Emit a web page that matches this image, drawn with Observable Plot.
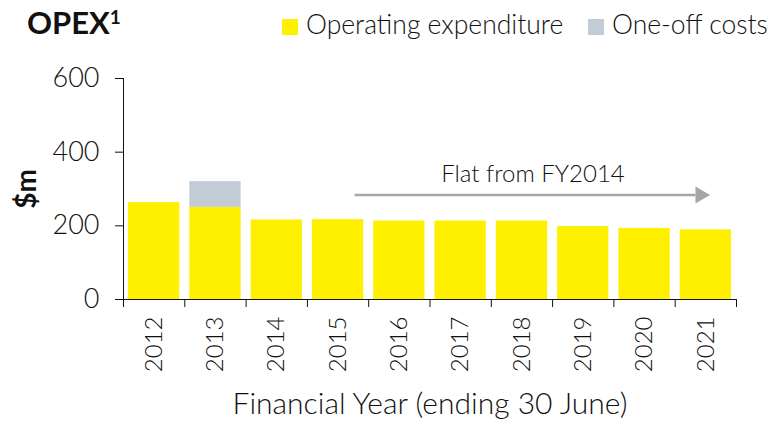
<!DOCTYPE html>
<html>
<head>
<meta charset="utf-8">
<script src="https://cdn.jsdelivr.net/npm/d3@7"></script>
<script src="https://cdn.jsdelivr.net/npm/@observablehq/plot@0.6"></script>
<style>
  html, body { margin: 0; padding: 0; background: #fff; }
  #wrap { position: relative; width: 777px; height: 422px; font-family: Lato, "Noto Sans", sans-serif; color: #111; }
  #wrap svg { position: absolute; left: 0; top: 0; }
  .title { position: absolute; left: 27px; top: 7px; font-size: 31px; font-weight: 700; line-height: 30px; letter-spacing: 0px; }
  .title sup { font-size: 19px; vertical-align: 0; position: relative; top: -10px; margin-left: 0px; }
  .leg { position: absolute; top: 9px; font-size: 26.5px; font-weight: 300; line-height: 30px; white-space: nowrap; }
  .sw { position: absolute; width: 16px; height: 16px; top: 19px; }
</style>
</head>
<body>
<div id="wrap"></div>
<script>
// ---- data ----
const years = [2012, 2013, 2014, 2015, 2016, 2017, 2018, 2019, 2020, 2021];
const operatingExpenditure = [263, 250, 216, 217, 213, 213, 213, 198, 193, 189];
const oneOffCosts = [0, 70, 0, 0, 0, 0, 0, 0, 0, 0];
const seriesNames = ["Operating expenditure", "One-off costs"];
const seriesColors = ["#FFF000", "#C1CCD6"];
const yTicks = [0, 200, 400, 600];
const chartTitle = "OPEX";
const titleNote = "1";
const xLabel = "Financial Year (ending 30 June)";
const yLabel = "$m";
// annotation: arrow from FY2015 to past FY2021, at ~284 $m
const annotationText = "Flat from FY2014";
const annotationTextPos = [2018.18, 340];
const arrowFrom = 2015.27, arrowTo = 2020.83, arrowLevel = 284, arrowHeadAt = 2020.91;

// ---- build rows ----
const rows = [];
years.forEach((yr, i) => {
  rows.push({year: yr, series: seriesNames[0], y1: 0, y2: operatingExpenditure[i]});
  if (oneOffCosts[i] > 0)
    rows.push({year: yr, series: seriesNames[1], y1: operatingExpenditure[i], y2: operatingExpenditure[i] + oneOffCosts[i]});
});
const bounds = [years[0] - 0.5, ...years.map(y => y + 0.5)];

const chart = Plot.plot({
  width: 777,
  height: 422,
  marginLeft: 123,
  marginRight: 41,
  marginTop: 78,
  marginBottom: 123,
  style: {fontFamily: "Lato, 'Noto Sans', sans-serif", fontSize: "24px", color: "#111", background: "transparent", fontWeight: 300},
  x: {domain: [bounds[0], bounds[bounds.length - 1]]},
  y: {domain: [0, 600]},
  color: {domain: seriesNames, range: seriesColors},
  marks: [
    Plot.rectY(rows, {x1: d => d.year - 0.5, x2: d => d.year + 0.5, y1: "y1", y2: "y2", fill: "series", insetLeft: 5, insetRight: 5}),
    Plot.axisY({ticks: yTicks, tickSize: 8, tickPadding: 16, label: null, fontSize: 27, stroke: "#111"}),
    Plot.axisX({ticks: bounds, tickSize: 8, tickFormat: () => "", label: null, stroke: "#111"}),
    Plot.axisX({ticks: years, tickSize: 0, tickPadding: 17, tickRotate: -90, tickFormat: d => String(d), label: null, fontSize: 24}),
    Plot.ruleX([bounds[0]], {stroke: "#111"}),
    Plot.ruleY([0], {stroke: "#111"}),
    Plot.text([xLabel], {frameAnchor: "bottom", lineAnchor: "middle", dy: 105, fontSize: 30, text: d => d}),
    Plot.text([yLabel], {frameAnchor: "left", textAnchor: "middle", dx: -96, rotate: -90, fontSize: 28, fontWeight: 700, text: d => d}),
    Plot.link([{a: arrowFrom, b: arrowTo, y: arrowLevel}], {x1: "a", x2: "b", y1: "y", y2: "y", stroke: "#A6A6A6", strokeWidth: 2.5}),
    Plot.dot([{x: arrowHeadAt, y: arrowLevel}], {x: "x", y: "y", symbol: "triangle", rotate: 90, r: 6.3, fill: "#A6A6A6", stroke: null}),
    Plot.text([annotationText], {x: () => annotationTextPos[0], y: () => annotationTextPos[1], text: d => d, fontSize: 24})
  ]
});

const wrap = document.getElementById("wrap");
wrap.appendChild(chart);

const t = document.createElement("div");
t.className = "title";
t.innerHTML = chartTitle + "<sup>" + titleNote + "</sup>";
wrap.appendChild(t);

const legendX = [[282, 306], [588, 612]];
seriesNames.forEach((name, i) => {
  const sw = document.createElement("div");
  sw.className = "sw";
  sw.style.left = legendX[i][0] + "px";
  sw.style.background = seriesColors[i];
  wrap.appendChild(sw);
  const lab = document.createElement("div");
  lab.className = "leg";
  lab.style.left = legendX[i][1] + "px";
  lab.textContent = name;
  wrap.appendChild(lab);
});
</script>
</body>
</html>
